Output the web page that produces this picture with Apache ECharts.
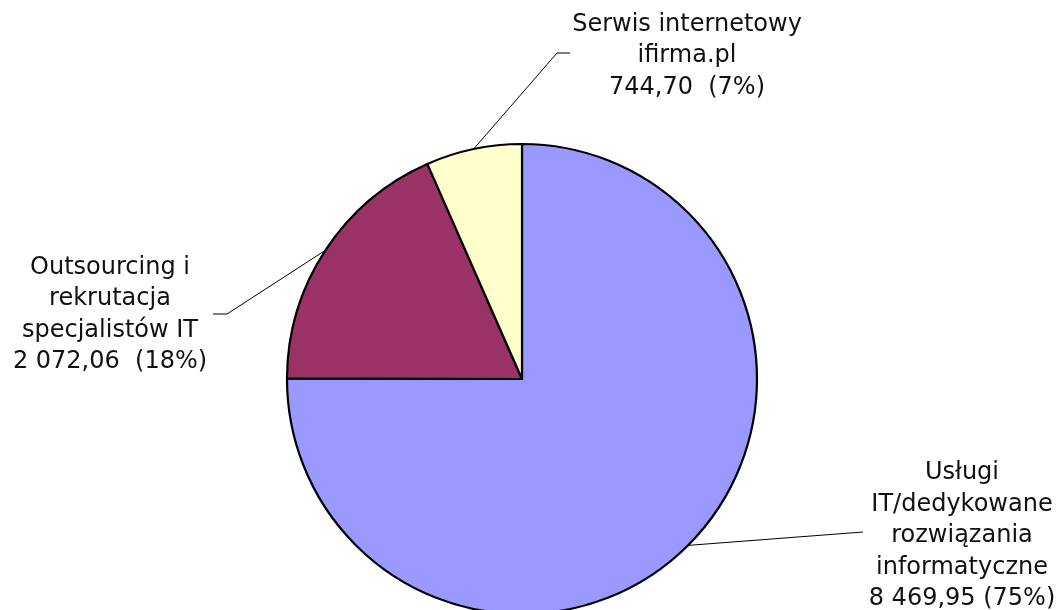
<!DOCTYPE html>
<html>
<head>
<meta charset="utf-8">
<script src="https://cdn.jsdelivr.net/npm/echarts@6/dist/echarts.min.js"></script>
<style>
  html, body { margin: 0; padding: 0; background: #fff; }
  #chart { width: 1056px; height: 610px; }
</style>
</head>
<body>
<div id="chart"></div>
<script>
// Revenue by business segment
const categories = [
  'Usługi\nIT/dedykowane\nrozwiązania\ninformatyczne',
  'Outsourcing i\nrekrutacja\nspecjalistów IT',
  'Serwis internetowy\nifirma.pl'
];
const values = [8469.95, 2072.06, 744.70];
const valueGaps = [' ', '  ', '  '];
const colors = ['#9999FF', '#993366', '#FFFFCC'];

// Label block centres and leader-line bends for each segment
const labelPlacement = [
  { x: 962, y: 536, line: [[863, 532]] },
  { x: 110, y: 315, line: [[227, 314], [213, 314]] },
  { x: 687, y: 56,  line: [[557, 53], [570, 53]] }
];

function formatPl(v) {
  const parts = v.toFixed(2).split('.');
  const intPart = parts[0].replace(/\B(?=(\d{3})+(?!\d))/g, ' ');
  return intPart + ',' + parts[1];
}

const chart = echarts.init(document.getElementById('chart'), null, { renderer: 'canvas' });

chart.setOption({
  backgroundColor: '#ffffff',
  animation: false,
  series: [{
    type: 'pie',
    center: [522, 379],
    radius: 235,
    startAngle: 90,
    clockwise: true,
    percentPrecision: 0,
    avoidLabelOverlap: false,
    data: categories.map((name, i) => ({
      name: name,
      value: values[i],
      itemStyle: { color: colors[i] }
    })),
    itemStyle: { borderColor: '#000000', borderWidth: 2.2 },
    label: {
      show: true,
      position: 'outside',
      color: '#111111',
      fontFamily: 'DejaVu Sans',
      fontSize: 24,
      lineHeight: 31.5,
      align: 'center',
      formatter: p => p.name + '\n' + formatPl(p.value) + valueGaps[p.dataIndex] + '(' + p.percent + '%)'
    },
    labelLine: {
      show: true,
      lineStyle: { color: '#000000', width: 1 }
    },
    emphasis: { disabled: true },
    labelLayout: function (params) {
      const pl = labelPlacement[params.dataIndex];
      const start = params.labelLinePoints ? params.labelLinePoints[0] : null;
      const out = {
        x: pl.x,
        y: pl.y,
        align: 'center',
        verticalAlign: 'middle'
      };
      if (start) {
        out.labelLinePoints = [start].concat(pl.line);
      }
      return out;
    }
  }]
});
</script>
</body>
</html>
